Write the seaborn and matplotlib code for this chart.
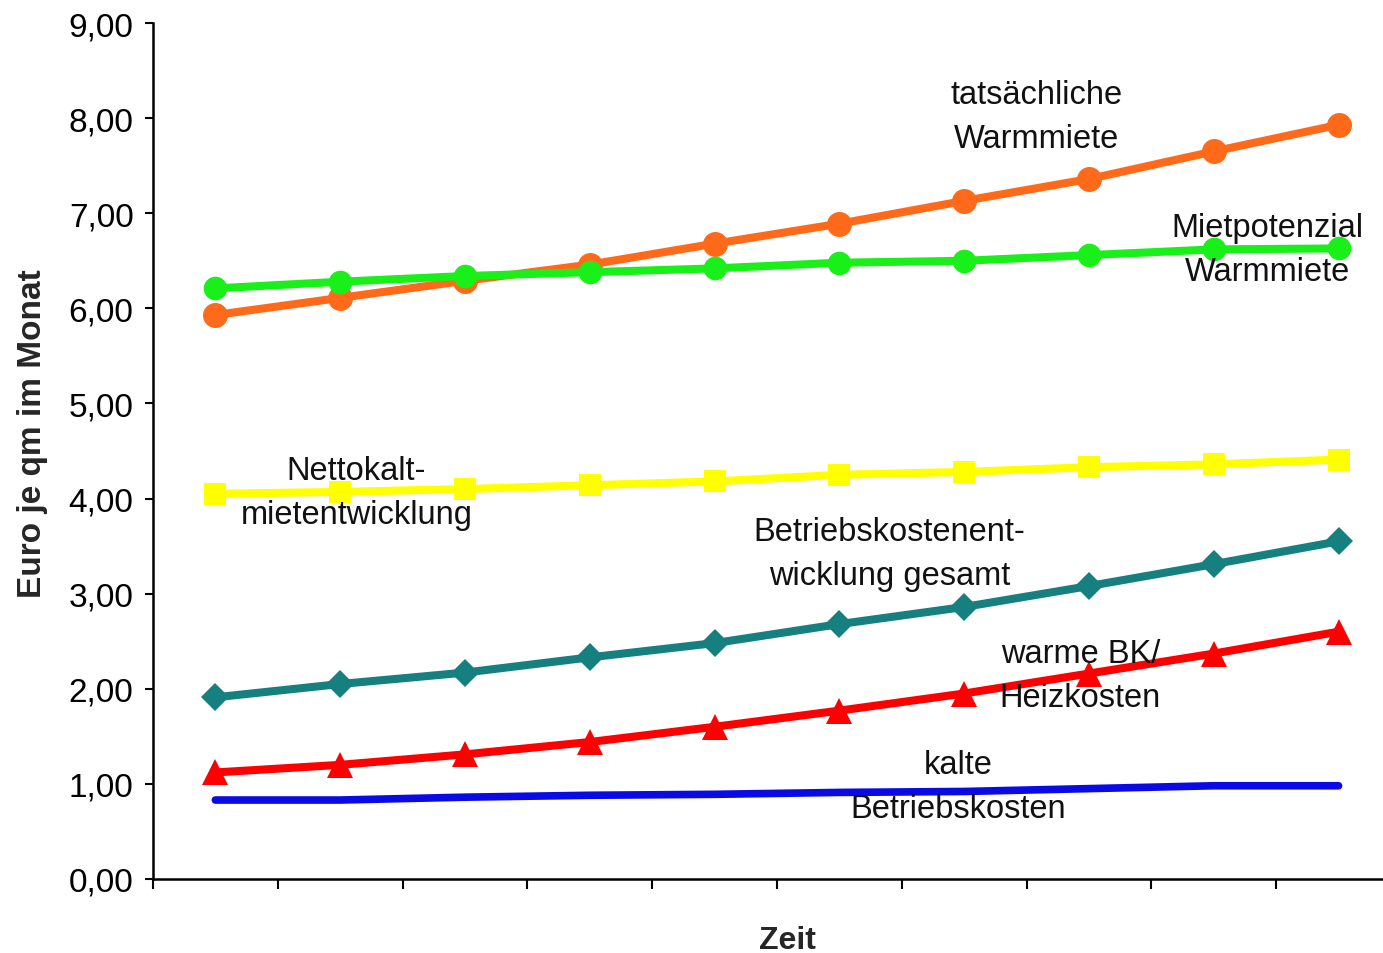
import numpy as np
import pandas as pd
import matplotlib
matplotlib.use("Agg")
import matplotlib.pyplot as plt
import seaborn as sns
from matplotlib.ticker import FuncFormatter, FixedLocator

# Time steps (unlabelled periods on the x axis)
zeit = list(range(10))

# Euro per square metre and month
tatsaechliche_warmmiete = [5.93, 6.11, 6.29, 6.46, 6.68, 6.89, 7.13, 7.36, 7.65, 7.93]
mietpotenzial_warmmiete = [6.21, 6.28, 6.34, 6.38, 6.42, 6.48, 6.50, 6.56, 6.62, 6.63]
nettokaltmiete = [4.05, 4.07, 4.10, 4.14, 4.18, 4.25, 4.28, 4.33, 4.36, 4.41]
betriebskosten_gesamt = [1.91, 2.05, 2.17, 2.33, 2.48, 2.68, 2.86, 3.08, 3.31, 3.55]
warme_bk_heizkosten = [1.12, 1.20, 1.31, 1.44, 1.60, 1.77, 1.95, 2.16, 2.37, 2.60]
kalte_betriebskosten = [0.83, 0.83, 0.86, 0.88, 0.89, 0.91, 0.92, 0.95, 0.98, 0.98]

y_ticks = [0, 1, 2, 3, 4, 5, 6, 7, 8, 9]

sns.set_theme(style="ticks")
plt.rcParams["font.family"] = ["Liberation Sans", "DejaVu Sans"]

fig = plt.figure(figsize=(13.83, 9.54), dpi=100)
ax = fig.add_axes([0.1106, 0.0776, 0.9024, 0.8972])

series = [
    (tatsaechliche_warmmiete, "#ff6a1a", "o", 18),
    (mietpotenzial_warmmiete, "#19f019", "o", 17),
    (nettokaltmiete, "#ffff00", "s", 16),
    (betriebskosten_gesamt, "#168080", "D", 14),
    (warme_bk_heizkosten, "#ff0000", "^", 19),
]
for vals, col, mk, ms in series:
    sns.lineplot(x=zeit, y=vals, ax=ax, color=col, linewidth=5.8,
                 marker=mk, markersize=ms, markeredgewidth=0,
                 markerfacecolor=col, zorder=3)

sns.lineplot(x=zeit, y=kalte_betriebskosten, ax=ax, color="#0a0ae6",
             linewidth=5.5, zorder=3)

ax.set_xlim(-0.5, 9.5)
ax.set_ylim(0, 9)

ax.xaxis.set_major_locator(FixedLocator(np.arange(-0.5, 10.0, 1.0)))
ax.xaxis.set_major_formatter(FuncFormatter(lambda v, p: ""))
ax.yaxis.set_major_locator(FixedLocator(y_ticks))
ax.yaxis.set_major_formatter(FuncFormatter(lambda v, p: f"{v:.2f}".replace(".", ",")))

ax.tick_params(axis="y", direction="out", length=6, width=1.5, pad=8,
               labelsize=24, colors="black")
ax.tick_params(axis="x", direction="out", length=7, width=1.5, colors="black")

for side in ("top", "right"):
    ax.spines[side].set_visible(False)
for side in ("left", "bottom"):
    ax.spines[side].set_linewidth(1.8)
    ax.spines[side].set_color("black")

ax.set_xlabel("Zeit", fontsize=23, fontweight="bold")
ax.set_ylabel("Euro je qm im Monat", fontsize=24, fontweight="bold")
ax.xaxis.set_label_coords(0.508, -0.054)
ax.yaxis.set_label_coords(-0.084, 0.522)

labels = [
    (6.58, 8.02, "tatsächliche\nWarmmiete"),
    (8.43, 6.62, "Mietpotenzial\nWarmmiete"),
    (1.13, 4.06, "Nettokalt-\nmietentwicklung"),
    (5.40, 3.42, "Betriebskostenent-\nwicklung gesamt"),
    (6.93, 2.14, "warme BK/\nHeizkosten"),
    (5.95, 0.97, "kalte\nBetriebskosten"),
]
for x, y, t in labels:
    ax.text(x, y, t, ha="center", va="center", multialignment="center",
            fontsize=23.5, linespacing=1.55, color="#111111", zorder=5)

fig.savefig("out.png", dpi=100, facecolor="white")
